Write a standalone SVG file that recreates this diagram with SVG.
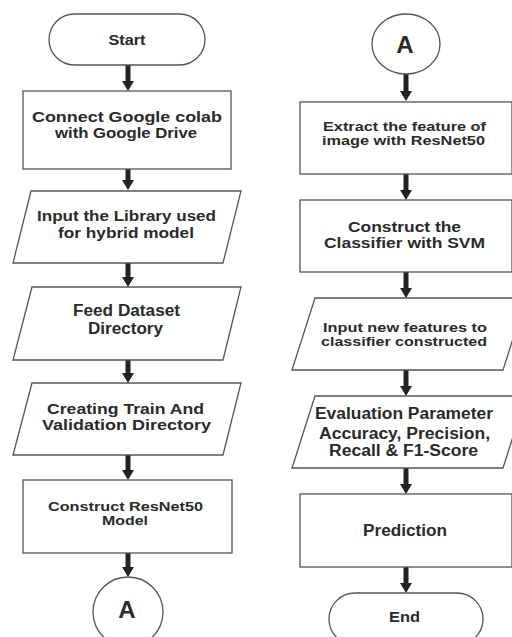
<svg xmlns="http://www.w3.org/2000/svg" width="512" height="637" viewBox="0 0 512 637">
<style>
.shape{fill:#fff;stroke:#555;stroke-width:1.3}
.t{font-family:"Liberation Sans",Arial,sans-serif;font-weight:bold;fill:#2a2a2a;text-anchor:middle}
.conn{stroke:#222;stroke-width:5;fill:none}
</style>
<defs>
<marker id="ah" viewBox="0 0 10 12" markerWidth="10" markerHeight="12" markerUnits="userSpaceOnUse" refX="2" refY="6" orient="auto">
<path d="M0,0 L10,6 L0,12 z" fill="#222"/>
</marker>
</defs>
<rect width="512" height="637" fill="#fff"/>
<g id="connectors">
<line class="conn" x1="128" y1="65" x2="128" y2="83" marker-end="url(#ah)"/>
<line class="conn" x1="128" y1="169" x2="128" y2="182" marker-end="url(#ah)"/>
<line class="conn" x1="128" y1="263" x2="128" y2="279" marker-end="url(#ah)"/>
<line class="conn" x1="128" y1="360" x2="128" y2="375" marker-end="url(#ah)"/>
<line class="conn" x1="128" y1="455" x2="128" y2="472" marker-end="url(#ah)"/>
<line class="conn" x1="128" y1="553" x2="128" y2="569" marker-end="url(#ah)"/>
<line class="conn" x1="406" y1="74" x2="406" y2="93" marker-end="url(#ah)"/>
<line class="conn" x1="406" y1="174" x2="406" y2="192" marker-end="url(#ah)"/>
<line class="conn" x1="406" y1="272" x2="406" y2="290" marker-end="url(#ah)"/>
<line class="conn" x1="406" y1="370" x2="406" y2="388" marker-end="url(#ah)"/>
<line class="conn" x1="406" y1="468" x2="406" y2="486" marker-end="url(#ah)"/>
<line class="conn" x1="406" y1="567" x2="406" y2="585" marker-end="url(#ah)"/>
</g>
<g id="start">
<rect class="shape" x="49" y="14" width="156" height="51" rx="25.5"/>
<text class="t" x="127" y="45" font-size="15" textLength="37" lengthAdjust="spacingAndGlyphs">Start</text>
</g>
<g id="connect">
<rect class="shape" x="23" y="91" width="208" height="78"/>
<text class="t" x="127" y="122" font-size="15" textLength="190" lengthAdjust="spacingAndGlyphs">Connect Google colab</text>
<text class="t" x="126" y="138" font-size="15" textLength="142" lengthAdjust="spacingAndGlyphs">with Google Drive</text>
</g>
<g id="library">
<polygon class="shape" points="31,191 241,191 223,263 13,263"/>
<text class="t" x="126.5" y="221" font-size="14" textLength="179" lengthAdjust="spacingAndGlyphs">Input the Library used</text>
<text class="t" x="126" y="238" font-size="14" textLength="136" lengthAdjust="spacingAndGlyphs">for hybrid model</text>
</g>
<g id="dataset">
<polygon class="shape" points="32,287 241,287 223,360 13,360"/>
<text class="t" x="126.5" y="316" font-size="16" textLength="107" lengthAdjust="spacingAndGlyphs">Feed Dataset</text>
<text class="t" x="125.5" y="334" font-size="16" textLength="75" lengthAdjust="spacingAndGlyphs">Directory</text>
</g>
<g id="trainval">
<polygon class="shape" points="32,383 241,383 223,455 13,455"/>
<text class="t" x="125.5" y="414" font-size="15" textLength="157" lengthAdjust="spacingAndGlyphs">Creating Train And</text>
<text class="t" x="126.5" y="430" font-size="15" textLength="169" lengthAdjust="spacingAndGlyphs">Validation Directory</text>
</g>
<g id="resnet">
<rect class="shape" x="23" y="480" width="209" height="73"/>
<text class="t" x="125.5" y="511" font-size="12" textLength="155" lengthAdjust="spacingAndGlyphs">Construct ResNet50</text>
<text class="t" x="125" y="525" font-size="12" textLength="46" lengthAdjust="spacingAndGlyphs">Model</text>
</g>
<g id="connectorA1">
<circle class="shape" cx="128" cy="612" r="35"/>
<text class="t" x="127" y="618" font-size="24">A</text>
</g>
<g id="connectorA2">
<ellipse class="shape" cx="406" cy="44" rx="34" ry="30"/>
<text class="t" x="405" y="53" font-size="24">A</text>
</g>
<g id="extract">
<rect class="shape" x="300" y="102" width="212" height="72"/>
<text class="t" x="404.5" y="131" font-size="12" textLength="163" lengthAdjust="spacingAndGlyphs">Extract the feature of</text>
<text class="t" x="403.5" y="145" font-size="12" textLength="163" lengthAdjust="spacingAndGlyphs">image with ResNet50</text>
</g>
<g id="svm">
<rect class="shape" x="300" y="200" width="212" height="72"/>
<text class="t" x="404.5" y="232" font-size="14" textLength="113" lengthAdjust="spacingAndGlyphs">Construct the</text>
<text class="t" x="404.5" y="248" font-size="14" textLength="161" lengthAdjust="spacingAndGlyphs">Classifier with SVM</text>
</g>
<g id="newfeatures">
<polygon class="shape" points="315,298 526,298 503,370 292,370"/>
<text class="t" x="405" y="332" font-size="12" textLength="164" lengthAdjust="spacingAndGlyphs">Input new features to</text>
<text class="t" x="404" y="346" font-size="12" textLength="166" lengthAdjust="spacingAndGlyphs">classifier constructed</text>
</g>
<g id="evaluation">
<polygon class="shape" points="315,396 526,396 503,468 292,468"/>
<text class="t" x="404" y="419" font-size="16" textLength="178" lengthAdjust="spacingAndGlyphs">Evaluation Parameter</text>
<text class="t" x="404.5" y="439" font-size="16" textLength="171" lengthAdjust="spacingAndGlyphs">Accuracy, Precision,</text>
<text class="t" x="403.5" y="456" font-size="16" textLength="149" lengthAdjust="spacingAndGlyphs">Recall &amp; F1-Score</text>
</g>
<g id="prediction">
<rect class="shape" x="300" y="494" width="212" height="73"/>
<text class="t" x="405" y="536" font-size="16" textLength="84" lengthAdjust="spacingAndGlyphs">Prediction</text>
</g>
<g id="end">
<rect class="shape" x="329" y="593" width="154" height="52" rx="26"/>
<text class="t" x="404.5" y="622" font-size="15" textLength="31" lengthAdjust="spacingAndGlyphs">End</text>
</g>
</svg>
